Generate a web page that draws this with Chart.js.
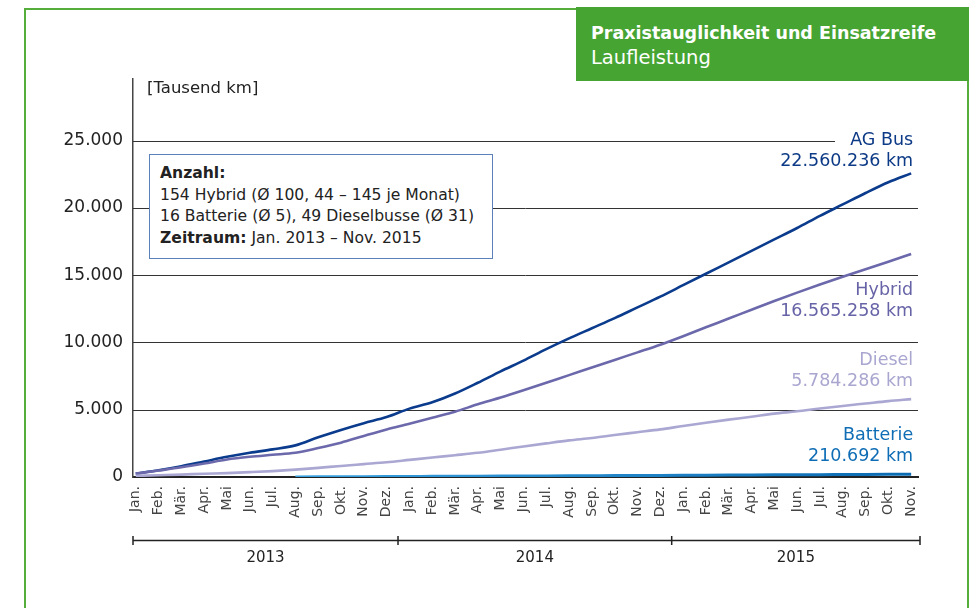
<!DOCTYPE html>
<html>
<head>
<meta charset="utf-8">
<script src="https://cdn.jsdelivr.net/npm/chart.js@4"></script>
<style>
    body { margin: 0; background: #fff; font-family: "DejaVu Sans", sans-serif; }
    #wrap { position: relative; width: 975px; height: 608px; overflow: hidden; background: #fff; }
    #frame { position: absolute; left: 24px; top: 8px; width: 941px; height: 640px; border: 2px solid #55ae3c; }
    #titlebox { position: absolute; left: 576px; top: 7px; width: 393px; height: 74px; background: #46a432; color: #fff; }
    #titlebox .t1 { position: absolute; left: 15px; top: 16px; font-weight: 700; font-size: 17.5px; white-space: nowrap; }
    #titlebox .t2 { position: absolute; left: 15px; top: 39px; font-size: 19.5px; white-space: nowrap; }
    #chart { position: absolute; left: 0; top: 0; }
    #unit { position: absolute; left: 147px; top: 78px; font-size: 16.5px; color: #222; }
    #info { position: absolute; left: 149px; top: 154px; width: 342px; height: 103px; border: 1px solid #5b80ba; background: #fff; color: #222; font-size: 15.6px; line-height: 21.5px; }
    #info div { position: absolute; left: 10px; top: 8px; white-space: nowrap; }
</style>
</head>
<body>
<div id="wrap">
    <div id="frame"></div>
    <div id="titlebox">
        <div class="t1">Praxistauglichkeit und Einsatzreife</div>
        <div class="t2">Laufleistung</div>
    </div>
    <canvas id="chart" width="975" height="608"></canvas>
    <div id="unit">[Tausend km]</div>
    <div id="info"><div>
        <b>Anzahl:</b><br>
        154 Hybrid (Ø 100, 44 – 145 je Monat)<br>
        16 Batterie (Ø 5), 49 Dieselbusse (Ø 31)<br>
        <b>Zeitraum:</b> Jan. 2013 – Nov. 2015
    </div></div>
</div>

<script>
// months Jan 2013 .. Nov 2015
const months = ["Jan.", "Feb.", "Mär.", "Apr.", "Mai", "Jun.", "Jul.", "Aug.", "Sep.", "Okt.", "Nov.", "Dez.",
                "Jan.", "Feb.", "Mär.", "Apr.", "Mai", "Jun.", "Jul.", "Aug.", "Sep.", "Okt.", "Nov.", "Dez.",
                "Jan.", "Feb.", "Mär.", "Apr.", "Mai", "Jun.", "Jul.", "Aug.", "Sep.", "Okt.", "Nov."];
const years = ["2013", "2014", "2015"];
const yearStarts = [0, 12, 24];

// cumulative mileage, thousand km
const agBus = [250, 500, 800, 1150, 1500, 1800, 2050, 2350, 2950, 3500, 4000, 4450,
               5080, 5550, 6200, 7000, 7850, 8650, 9500, 10300, 11050, 11800, 12600, 13400,
               14250, 15100, 15950, 16800, 17650, 18500, 19400, 20250, 21100, 21900, 22560];
const hybrid = [250, 480, 720, 1000, 1300, 1500, 1650, 1800, 2150, 2550, 3050, 3530,
                3950, 4400, 4850, 5400, 5900, 6440, 7000, 7570, 8130, 8700, 9260, 9830,
                10460, 11120, 11770, 12430, 13080, 13700, 14300, 14880, 15430, 16000, 16565];
const diesel = [80, 130, 180, 240, 290, 360, 440, 545, 680, 820, 955, 1090,
                1270, 1450, 1620, 1800, 2030, 2270, 2500, 2720, 2900, 3120, 3330, 3540,
                3790, 4030, 4260, 4480, 4710, 4880, 5090, 5280, 5460, 5640, 5784];
const batterie = [null, null, null, null, null, null, null, 5, 12, 19, 26, 33,
                  40, 47, 54, 61, 68, 75, 82, 89, 96, 103, 111, 119,
                  127, 135, 143, 151, 159, 167, 175, 184, 193, 202, 211];

const yTicks = [0, 5000, 10000, 15000, 20000, 25000];
const yTickLabels = ["0", "5.000", "10.000", "15.000", "20.000", "25.000"];

const seriesLabels = [
    { name: "AG Bus", total: "22.560.236 km", color: "#0d3a86", y: 140 },
    { name: "Hybrid", total: "16.565.258 km", color: "#6763a7", y: 290 },
    { name: "Diesel", total: "5.784.286 km", color: "#a9a6d0", y: 360 },
    { name: "Batterie", total: "210.692 km", color: "#0f6db5", y: 435 }
];

const FONT = "DejaVu Sans";

function points(arr) {
    return arr.map((v, i) => ({ x: i, y: v }));
}

// gridlines, year bracket and end labels
const decoPlugin = {
    id: "deco",
    beforeDatasetsDraw(chart) {
        const c = chart.ctx;
        const area = chart.chartArea;
        const ys = chart.scales.y;
        c.save();
        c.strokeStyle = "#333";
        c.lineWidth = 1;
        yTicks.forEach(v => {
            if (v === 0) return;
            const py = Math.round(ys.getPixelForValue(v)) + 0.5;
            const right = v === 25000 ? area.right - 83 : area.right;
            c.beginPath();
            c.moveTo(area.left, py);
            c.lineTo(right, py);
            c.stroke();
        });
        c.restore();
    },
    afterDraw(chart) {
        const c = chart.ctx;
        const area = chart.chartArea;
        const xs = chart.scales.x;
        c.save();
        // year bracket
        const by = 540.5;
        const bounds = [area.left];
        yearStarts.slice(1).forEach(s => bounds.push(xs.getPixelForValue(s - 0.5)));
        bounds.push(area.right + 2);
        c.strokeStyle = "#222";
        c.lineWidth = 1.5;
        c.beginPath();
        c.moveTo(bounds[0], by);
        c.lineTo(bounds[bounds.length - 1], by);
        bounds.forEach(bx => {
            c.moveTo(bx, by - 4.5);
            c.lineTo(bx, by + 4.5);
        });
        c.stroke();
        c.fillStyle = "#222";
        c.font = "15px '" + FONT + "'";
        c.textAlign = "center";
        c.textBaseline = "middle";
        years.forEach((yr, i) => {
            c.fillText(yr, (bounds[i] + bounds[i + 1]) / 2, 558);
        });
        // series end labels
        c.textAlign = "right";
        c.font = "17.5px '" + FONT + "'";
        const lx = xs.getPixelForValue(months.length - 1) + 2;
        seriesLabels.forEach(s => {
            c.fillStyle = s.color;
            c.fillText(s.name, lx, s.y);
            c.fillText(s.total, lx, s.y + 21);
        });
        c.restore();
    }
};

function batterieColor(ctx) {
    const chart = ctx.chart;
    const area = chart.chartArea;
    if (!area) return "#1a86c8";
    const x0 = chart.scales.x.getPixelForValue(7);
    const g = chart.ctx.createLinearGradient(x0, 0, area.right, 0);
    g.addColorStop(0, "#3aa2e0");
    g.addColorStop(1, "#0a6ab2");
    return g;
}

const line = {
    pointRadius: 0,
    borderWidth: 2.6,
    cubicInterpolationMode: "monotone",
    fill: false
};

new Chart(document.getElementById("chart"), {
    type: "line",
    data: {
        datasets: [
            Object.assign({ label: "Diesel", data: points(diesel), borderColor: "#aaa7d2" }, line),
            Object.assign({ label: "Hybrid", data: points(hybrid), borderColor: "#6b68ab" }, line),
            Object.assign({ label: "AG Bus", data: points(agBus), borderColor: "#0b3b8c" }, line),
            Object.assign({ label: "Batterie", data: points(batterie), borderColor: batterieColor }, line, { borderWidth: 3 })
        ]
    },
    options: {
        responsive: false,
        animation: false,
        layout: { padding: { left: 0, right: 57, top: 79, bottom: 0 } },
        plugins: { legend: { display: false }, tooltip: { enabled: false } },
        scales: {
            x: {
                type: "linear",
                min: -0.12,
                max: 34.3,
                afterBuildTicks: s => { s.ticks = months.map((m, i) => ({ value: i })); },
                afterFit: s => { s.height = 131; },
                grid: { display: false, drawTicks: false },
                border: { display: true, color: "#222", width: 2 },
                ticks: {
                    autoSkip: false,
                    minRotation: 90,
                    maxRotation: 90,
                    padding: 9,
                    color: "#444",
                    font: { family: FONT, size: 14 },
                    callback: v => months[v]
                }
            },
            y: {
                min: 0,
                max: 29570,
                afterBuildTicks: s => { s.ticks = yTicks.map(v => ({ value: v })); },
                afterFit: s => { s.width = 133; },
                grid: { display: false, drawTicks: false },
                border: { display: true, color: "#444", width: 1.5 },
                ticks: {
                    padding: 10,
                    color: "#222",
                    font: { family: FONT, size: 17 },
                    callback: v => yTickLabels[yTicks.indexOf(v)]
                }
            }
        }
    },
    plugins: [decoPlugin]
});
</script>
</body>
</html>
